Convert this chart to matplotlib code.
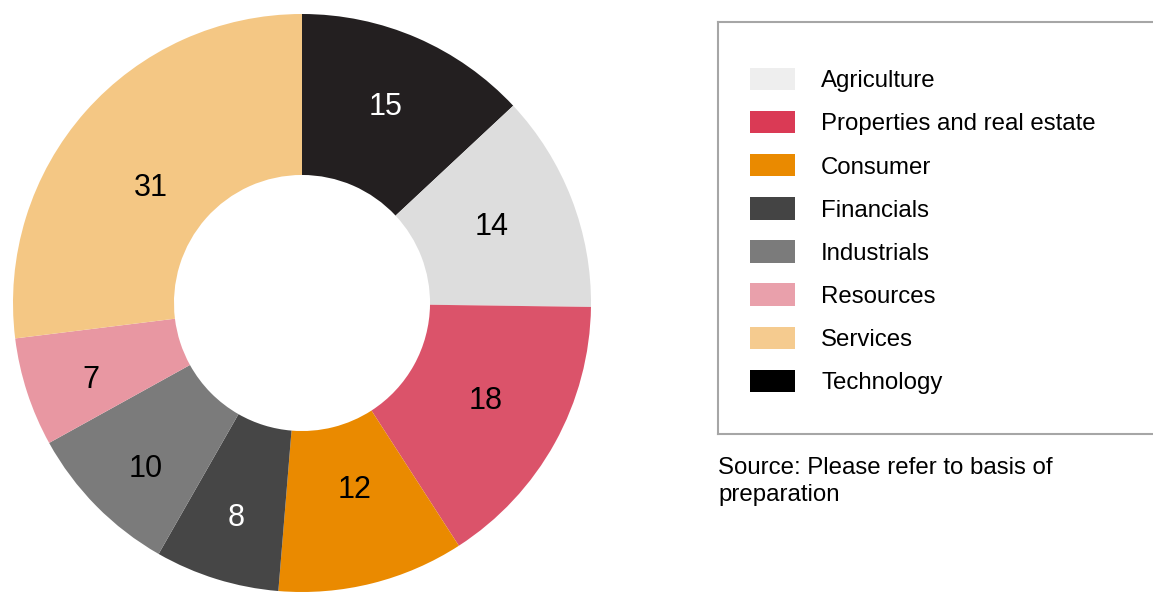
import numpy as np
import matplotlib.pyplot as plt
from matplotlib.patches import Patch

plt.rcParams['font.family'] = ['Liberation Sans', 'DejaVu Sans']

# slices in drawing order, clockwise from 12 o'clock
sectors = ['Technology', 'Agriculture', 'Properties and real estate', 'Consumer',
           'Financials', 'Industrials', 'Resources', 'Services']
values = [15, 14, 18, 12, 8, 10, 7, 31]
slice_colors = ['#231F20', '#DDDDDD', '#DB536A', '#EA8A00',
                '#464646', '#7B7B7B', '#E897A2', '#F4C784']
label_colors = ['white', 'black', 'black', 'black', 'white', 'black', 'black', 'black']

# legend order and its (slightly different) swatch colours
legend_names = ['Agriculture', 'Properties and real estate', 'Consumer', 'Financials',
                'Industrials', 'Resources', 'Services', 'Technology']
legend_colors = ['#EEEEEE', '#DA3A55', '#EA8A00', '#444444',
                 '#7B7B7B', '#E9A0AB', '#F5CB8F', '#000000']

# label placement per slice: distance (fraction of radius) and angle nudge (deg, ccw)
label_r = [0.744, 0.709, 0.716, 0.664, 0.772, 0.782, 0.775, 0.661]
label_nudge = [0.6, 1.2, 1.5, 1.7, 0.0, 1.8, 1.45, 3.6]

W, H = 1153, 592
fig = plt.figure(figsize=(W / 100, H / 100), dpi=100)

ax = fig.add_axes([13 / W, 0, 578 / W, 578 / H])
wedges, _ = ax.pie(values, colors=slice_colors, startangle=90, counterclock=False,
                   radius=1, wedgeprops=dict(width=0.557, linewidth=0))
for w, v, c, r, d in zip(wedges, values, label_colors, label_r, label_nudge):
    ang = np.deg2rad((w.theta1 + w.theta2) / 2 + d)
    ax.text(r * np.cos(ang), r * np.sin(ang) - 0.008, str(v), ha='center', va='center',
            fontsize=22, color=c)
ax.set_xlim(-1, 1)
ax.set_ylim(-1, 1)
ax.set_aspect('equal')
ax.axis('off')

# legend box, runs off the right edge like the original
lax = fig.add_axes([718 / W, (H - 434) / H, 460 / W, 412 / H])
lax.set_xticks([])
lax.set_yticks([])
for s in lax.spines.values():
    s.set_color('#A6A6A6')
    s.set_linewidth(1.5)
handles = [Patch(facecolor=c, edgecolor='none', label=n)
           for n, c in zip(legend_names, legend_colors)]
lax.legend(handles=handles, loc='upper left',
           bbox_to_anchor=(32 / 460, 1 - 46 / 412), bbox_transform=lax.transAxes,
           frameon=False, handlelength=1.875, handleheight=1.05,
           handletextpad=1.08, labelspacing=0.78, borderaxespad=0, borderpad=0,
           prop={'size': 17.3})

fig.text(718 / W, 1 - 457 / H, 'Source: Please refer to basis of\npreparation',
         ha='left', va='top', fontsize=17.3, linespacing=1.32)

fig.savefig('out.png', dpi=100)
